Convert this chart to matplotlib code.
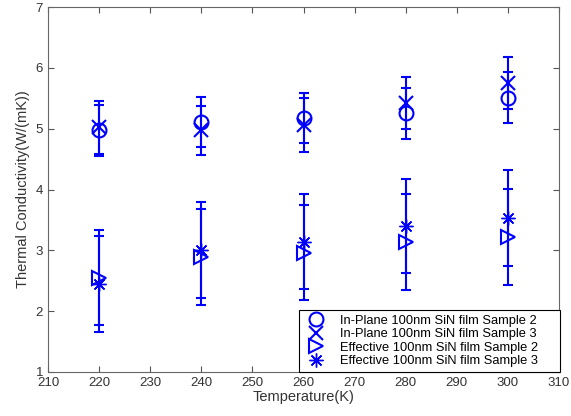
import matplotlib
matplotlib.use("Agg")
import matplotlib.pyplot as plt

plt.rcParams['font.family'] = ['Liberation Sans', 'DejaVu Sans']

temps = [220, 240, 260, 280, 300]
inplane_s2 = [4.97, 5.11, 5.17, 5.25, 5.51]
inplane_s2_err = [0.42, 0.41, 0.41, 0.42, 0.42]
inplane_s3 = [5.02, 4.97, 5.06, 5.42, 5.75]
inplane_s3_err = [0.43, 0.41, 0.44, 0.43, 0.42]
eff_s2 = [2.55, 2.89, 2.96, 3.14, 3.22]
eff_s2_err = [0.78, 0.79, 0.78, 0.79, 0.79]
eff_s3 = [2.45, 3.01, 3.14, 3.40, 3.53]
eff_s3_err = [0.79, 0.79, 0.78, 0.78, 0.79]

labels = ['In-Plane 100nm SiN film Sample 2',
          'In-Plane 100nm SiN film Sample 3',
          'Effective 100nm SiN film Sample 2',
          'Effective 100nm SiN film Sample 3']

fig = plt.figure(figsize=(5.71, 4.16), dpi=100)
ax = fig.add_axes([48/571, 1-372/416, (559-48)/571, (372-7)/416])

blue = (0, 0, 1)
asterisk = (8, 2, 0)
series = [(inplane_s2, inplane_s2_err, 'o', 1.5),
          (inplane_s3, inplane_s3_err, 'x', 1.5),
          (eff_s2, eff_s2_err, '>', 1.5),
          (eff_s3, eff_s3_err, asterisk, 1.0)]
for (vals, errs, mk, mew), lab in zip(series, labels):
    ax.errorbar(temps, vals, yerr=errs, fmt='none', ecolor=blue,
                elinewidth=1.5, capsize=3.5, capthick=1.5)
    ax.plot(temps, vals, linestyle='none', marker=mk, markersize=10,
            markerfacecolor='none', markeredgecolor=blue,
            markeredgewidth=mew, label=lab)

ax.set_xlim(210, 310)
ax.set_ylim(1, 7)
ax.set_xticks(range(210, 311, 10))
ax.set_yticks(range(1, 8))
ax.tick_params(direction='in', top=True, right=True, length=4,
               labelsize=9.5, colors='#555555', labelcolor='#333333', width=0.8)
for s in ax.spines.values():
    s.set_color('#666666')
    s.set_linewidth(0.8)
ax.set_xlabel('Temperature(K)', fontsize=10.5, color='#333333', labelpad=1)
ax.set_ylabel('Thermal Conductivity(W/(mK))', fontsize=10.5, color='#333333', labelpad=4)

leg = ax.legend(loc='lower left', bbox_to_anchor=(0.491, 0.0, 0.511, 0.178),
                mode='expand', fontsize=9.3, frameon=True, fancybox=False,
                edgecolor='black', borderaxespad=0, handlelength=2.0,
                handletextpad=0.8, labelspacing=0.12, borderpad=0.35,
                framealpha=1)
leg.get_frame().set_linewidth(0.8)

fig.savefig('out.png', dpi=100)
